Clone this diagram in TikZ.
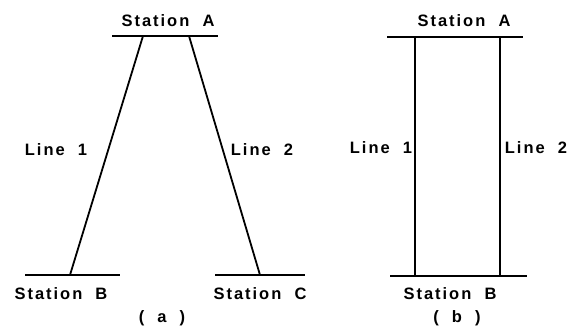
\documentclass[tikz,border=0pt]{standalone}
\usepackage{fontspec}
\newfontfamily\lettering[LetterSpace=12,WordSpace=2]{Liberation Sans}
\usetikzlibrary{positioning}

\begin{document}
\begin{tikzpicture}[x=1pt, y=-1pt, thick,
    bar/.style={line width=1.5pt},
    wire/.style={line width=1.8pt},
    tag/.style={inner sep=1pt, font=\lettering\bfseries\fontsize{16.5}{18}\selectfont}]
    \useasboundingbox (0,0) rectangle (572,331);

    % (a) three stations
    \coordinate (aAl) at (112,36);
    \coordinate (aAr) at (218,36);
    \coordinate (aBl) at (25,275);
    \coordinate (aBr) at (120,275);
    \coordinate (aCl) at (215,275);
    \coordinate (aCr) at (305,275);
    \coordinate (a1t) at (143,36);
    \coordinate (a1b) at (70,275);
    \coordinate (a2t) at (189,36);
    \coordinate (a2b) at (260,275);
    \draw[bar] (aAl) -- (aAr);
    \draw[bar] (aBl) -- (aBr);
    \draw[bar] (aCl) -- (aCr);
    \draw[wire] (a1t) -- (a1b);
    \draw[wire] (a2t) -- (a2b);
    \node[tag] (aA) at (168,21) {Station A};
    \node[tag] (aB) at (61,294) {Station B};
    \node[tag] (aC) at (260,294) {Station C};
    \node[tag] (aL1) at (56,150) {Line 1};
    \node[tag] (aL2) at (262,150) {Line 2};
    \node[tag] (acap) at (162,318) {( a )};

    % (b) two stations
    \coordinate (bAl) at (387,37);
    \coordinate (bAr) at (523,37);
    \coordinate (bBl) at (390,276);
    \coordinate (bBr) at (527,276);
    \coordinate (b1t) at (415,37);
    \coordinate (b1b) at (415,276);
    \coordinate (b2t) at (500,37);
    \coordinate (b2b) at (500,276);
    \draw[bar] (bAl) -- (bAr);
    \draw[bar] (bBl) -- (bBr);
    \draw[wire] (b1t) -- (b1b);
    \draw[wire] (b2t) -- (b2b);
    \node[tag] (bA) at (464,21) {Station A};
    \node[tag] (bB) at (450,294) {Station B};
    \node[tag] (bL1) at (381,148) {Line 1};
    \node[tag] (bL2) at (536,148) {Line 2};
    \node[tag] (bcap) at (457,318) {( b )};
\end{tikzpicture}
\end{document}
